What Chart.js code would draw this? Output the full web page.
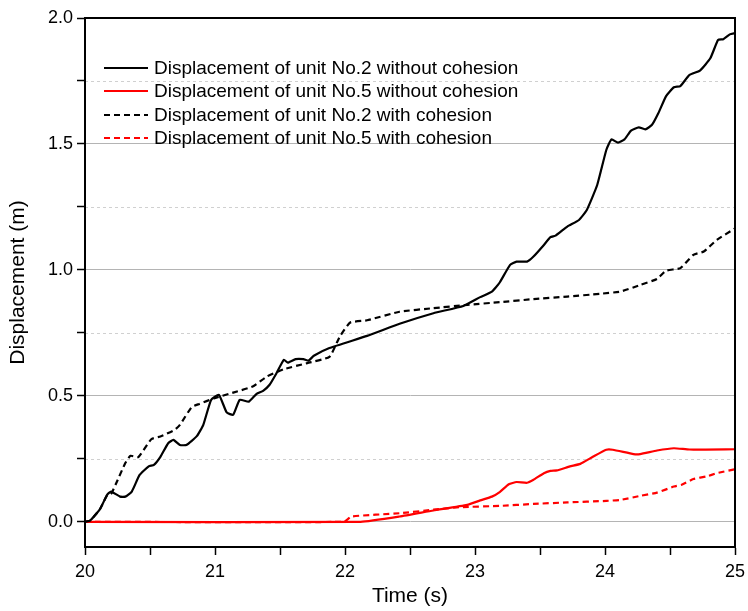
<!DOCTYPE html>
<html>
<head>
<meta charset="utf-8">
<script src="https://cdn.jsdelivr.net/npm/chart.js@4/dist/chart.umd.min.js"></script>
<style>
  html, body { margin: 0; padding: 0; background: #fff; }
  #wrap { width: 748px; height: 611px; position: relative; }
</style>
</head>
<body>
<div id="wrap"><canvas id="dispChart"></canvas></div>
<script>
// unit No.2 without cohesion
const t2Free = [20, 20.04, 20.115, 20.17, 20.2, 20.27, 20.31, 20.36, 20.42, 20.49, 20.53, 20.58, 20.64, 20.68, 20.73, 20.78, 20.86, 20.91, 20.97, 21.03, 21.09, 21.14, 21.19, 21.26, 21.32, 21.37, 21.42, 21.47, 21.53, 21.56, 21.62, 21.68, 21.72, 21.76, 21.88, 22.17, 22.42, 22.68, 22.91, 23.04, 23.13, 23.19, 23.27, 23.32, 23.4, 23.45, 23.53, 23.58, 23.62, 23.71, 23.8, 23.86, 23.94, 24.01, 24.05, 24.1, 24.15, 24.2, 24.26, 24.31, 24.36, 24.41, 24.47, 24.53, 24.58, 24.65, 24.73, 24.81, 24.87, 24.91, 24.96, 25]
const d2Free = [0, 0.005, 0.05, 0.107, 0.12, 0.10, 0.10, 0.12, 0.186, 0.22, 0.226, 0.258, 0.312, 0.325, 0.305, 0.305, 0.34, 0.385, 0.484, 0.504, 0.434, 0.425, 0.484, 0.477, 0.508, 0.52, 0.544, 0.587, 0.643, 0.632, 0.646, 0.646, 0.64, 0.659, 0.69, 0.738, 0.786, 0.828, 0.857, 0.892, 0.914, 0.95, 1.02, 1.033, 1.033, 1.053, 1.099, 1.13, 1.136, 1.172, 1.198, 1.238, 1.337, 1.476, 1.518, 1.505, 1.518, 1.553, 1.566, 1.558, 1.575, 1.622, 1.69, 1.725, 1.73, 1.774, 1.791, 1.84, 1.913, 1.916, 1.935, 1.94]

// unit No.5 without cohesion
const t5Free = [20, 22.12, 22.42, 22.68, 22.94, 23.04, 23.13, 23.19, 23.26, 23.32, 23.4, 23.45, 23.53, 23.58, 23.63, 23.73, 23.81, 23.91, 24.01, 24.06, 24.22, 24.27, 24.4, 24.53, 24.65, 25]
const d5Free = [0, 0, 0.021, 0.045, 0.067, 0.085, 0.1, 0.118, 0.149, 0.158, 0.155, 0.167, 0.193, 0.202, 0.204, 0.22, 0.23, 0.259, 0.286, 0.286, 0.269, 0.269, 0.283, 0.292, 0.287, 0.288]

// unit No.2 with cohesion
const t2Coh = [20, 20.04, 20.115, 20.17, 20.2, 20.24, 20.31, 20.35, 20.41, 20.51, 20.58, 20.69, 20.73, 20.82, 20.88, 20.99, 21.14, 21.29, 21.4, 21.53, 21.71, 21.88, 21.96, 22.04, 22.17, 22.42, 22.68, 22.94, 23.19, 23.45, 23.71, 23.96, 24.12, 24.27, 24.4, 24.47, 24.58, 24.68, 24.76, 24.86, 25]
const d2Coh = [0, 0.005, 0.05, 0.105, 0.11, 0.153, 0.233, 0.262, 0.257, 0.328, 0.339, 0.365, 0.385, 0.455, 0.468, 0.49, 0.513, 0.537, 0.577, 0.606, 0.63, 0.655, 0.735, 0.791, 0.8, 0.834, 0.848, 0.861, 0.872, 0.884, 0.894, 0.905, 0.914, 0.94, 0.964, 0.997, 1.007, 1.06, 1.073, 1.119, 1.165]

// unit No.5 with cohesion
const t5Coh = [20, 21.99, 22.05, 22.42, 22.68, 22.88, 23.19, 23.45, 23.71, 24.01, 24.12, 24.27, 24.4, 24.53, 24.59, 24.68, 24.78, 24.86, 25]
const d5Coh = [0, 0, 0.021, 0.034, 0.048, 0.058, 0.063, 0.071, 0.077, 0.083, 0.087, 0.103, 0.116, 0.14, 0.147, 0.17, 0.18, 0.193, 0.209]

const seriesLabels = [
    "Displacement of unit No.2 without cohesion",
    "Displacement of unit No.5 without cohesion",
    "Displacement of unit No.2 with cohesion",
    "Displacement of unit No.5 with cohesion"
]
const xTicks = [20, 20.5, 21, 21.5, 22, 22.5, 23, 23.5, 24, 24.5, 25]
const yTicks = [0, 0.25, 0.5, 0.75, 1, 1.25, 1.5, 1.75, 2]

const FONT = "'Liberation Sans', Arial, sans-serif"
const DASH = [6, 4]

const toPoints = (ts, vs) => ts.map((t, i) => ({ x: t, y: vs[i] }))
const isMajor = (v) => Math.abs(v * 2 - Math.round(v * 2)) < 1e-6

const seriesDefs = [
    { label: seriesLabels[0], data: toPoints(t2Free, d2Free), color: "#000000", dash: [] },
    { label: seriesLabels[1], data: toPoints(t5Free, d5Free), color: "#ff0000", dash: [] },
    { label: seriesLabels[2], data: toPoints(t2Coh, d2Coh), color: "#000000", dash: DASH },
    { label: seriesLabels[3], data: toPoints(t5Coh, d5Coh), color: "#ff0000", dash: DASH }
]

// dashed minor grid, frame and in-plot legend
const decorations = {
    id: "decorations",
    beforeDatasetsDraw(chart) {
        const { ctx, chartArea: a, scales } = chart
        ctx.save()
        ctx.strokeStyle = "#d0d0d0"
        ctx.lineWidth = 1
        ctx.setLineDash([3, 3])
        yTicks.filter(v => !isMajor(v)).forEach(v => {
            const y = Math.round(scales.y.getPixelForValue(v)) + 0.5
            ctx.beginPath()
            ctx.moveTo(a.left, y)
            ctx.lineTo(a.right, y)
            ctx.stroke()
        })
        ctx.restore()
    },
    afterDatasetsDraw(chart) {
        const { ctx, chartArea: a } = chart
        ctx.save()
        ctx.strokeStyle = "#000"
        ctx.lineWidth = 2
        ctx.strokeRect(a.left, a.top, a.right - a.left, a.bottom - a.top)

        const rows = [68, 91, 115, 138]
        ctx.font = "19px " + FONT
        ctx.textBaseline = "middle"
        ctx.fillStyle = "#000"
        seriesDefs.forEach((s, i) => {
            ctx.strokeStyle = s.color
            ctx.lineWidth = 2.2
            ctx.setLineDash(s.dash)
            ctx.beginPath()
            ctx.moveTo(104, rows[i])
            ctx.lineTo(148, rows[i])
            ctx.stroke()
            ctx.fillText(s.label, 154, rows[i] + 1)
        })
        ctx.restore()
    }
}

new Chart(document.getElementById("dispChart"), {
    type: "line",
    data: {
        datasets: seriesDefs.map(s => ({
            label: s.label,
            data: s.data,
            borderColor: s.color,
            borderWidth: 2.2,
            borderDash: s.dash,
            pointRadius: 0,
            tension: 0.15,
            fill: false
        }))
    },
    options: {
        responsive: true,
        maintainAspectRatio: false,
        animation: false,
        layout: { padding: { top: 18, right: 13, left: 0, bottom: 0 } },
        plugins: {
            legend: { display: false },
            tooltip: { enabled: false }
        },
        scales: {
            x: {
                type: "linear",
                min: 20, max: 25,
                afterBuildTicks: (s) => { s.ticks = xTicks.map(v => ({ value: v })) },
                afterFit: (s) => { s.height = 64; s.paddingRight = 0 },
                grid: { drawOnChartArea: false, tickColor: "#000", tickLength: 8, tickWidth: 1.5 },
                border: { color: "#000", width: 2 },
                ticks: {
                    color: "#000",
                    font: { family: FONT, size: 18 },
                    padding: 6,
                    maxRotation: 0,
                    autoSkip: false,
                    callback: (v) => Number.isInteger(v) ? String(v) : ""
                },
                title: { display: true, text: "Time (s)", color: "#000", font: { family: FONT, size: 21 }, padding: { top: 0, bottom: 2 } }
            },
            y: {
                type: "linear",
                min: -0.1, max: 2,
                afterBuildTicks: (s) => { s.ticks = yTicks.map(v => ({ value: v })) },
                afterFit: (s) => { s.width = 85 },
                grid: {
                    color: (c) => isMajor(c.tick.value) ? "#b4b4b4" : "rgba(0,0,0,0)",
                    tickColor: "#000", tickLength: 8, tickWidth: 1.5
                },
                border: { color: "#000", width: 2 },
                ticks: {
                    color: "#000",
                    font: { family: FONT, size: 18 },
                    padding: 4,
                    autoSkip: false,
                    callback: (v) => isMajor(v) ? v.toFixed(1) : ""
                },
                title: { display: true, text: "Displacement (m)", color: "#000", font: { family: FONT, size: 21 }, padding: { top: 6, bottom: 0 } }
            }
        }
    },
    plugins: [decorations]
})
</script>
</body>
</html>
